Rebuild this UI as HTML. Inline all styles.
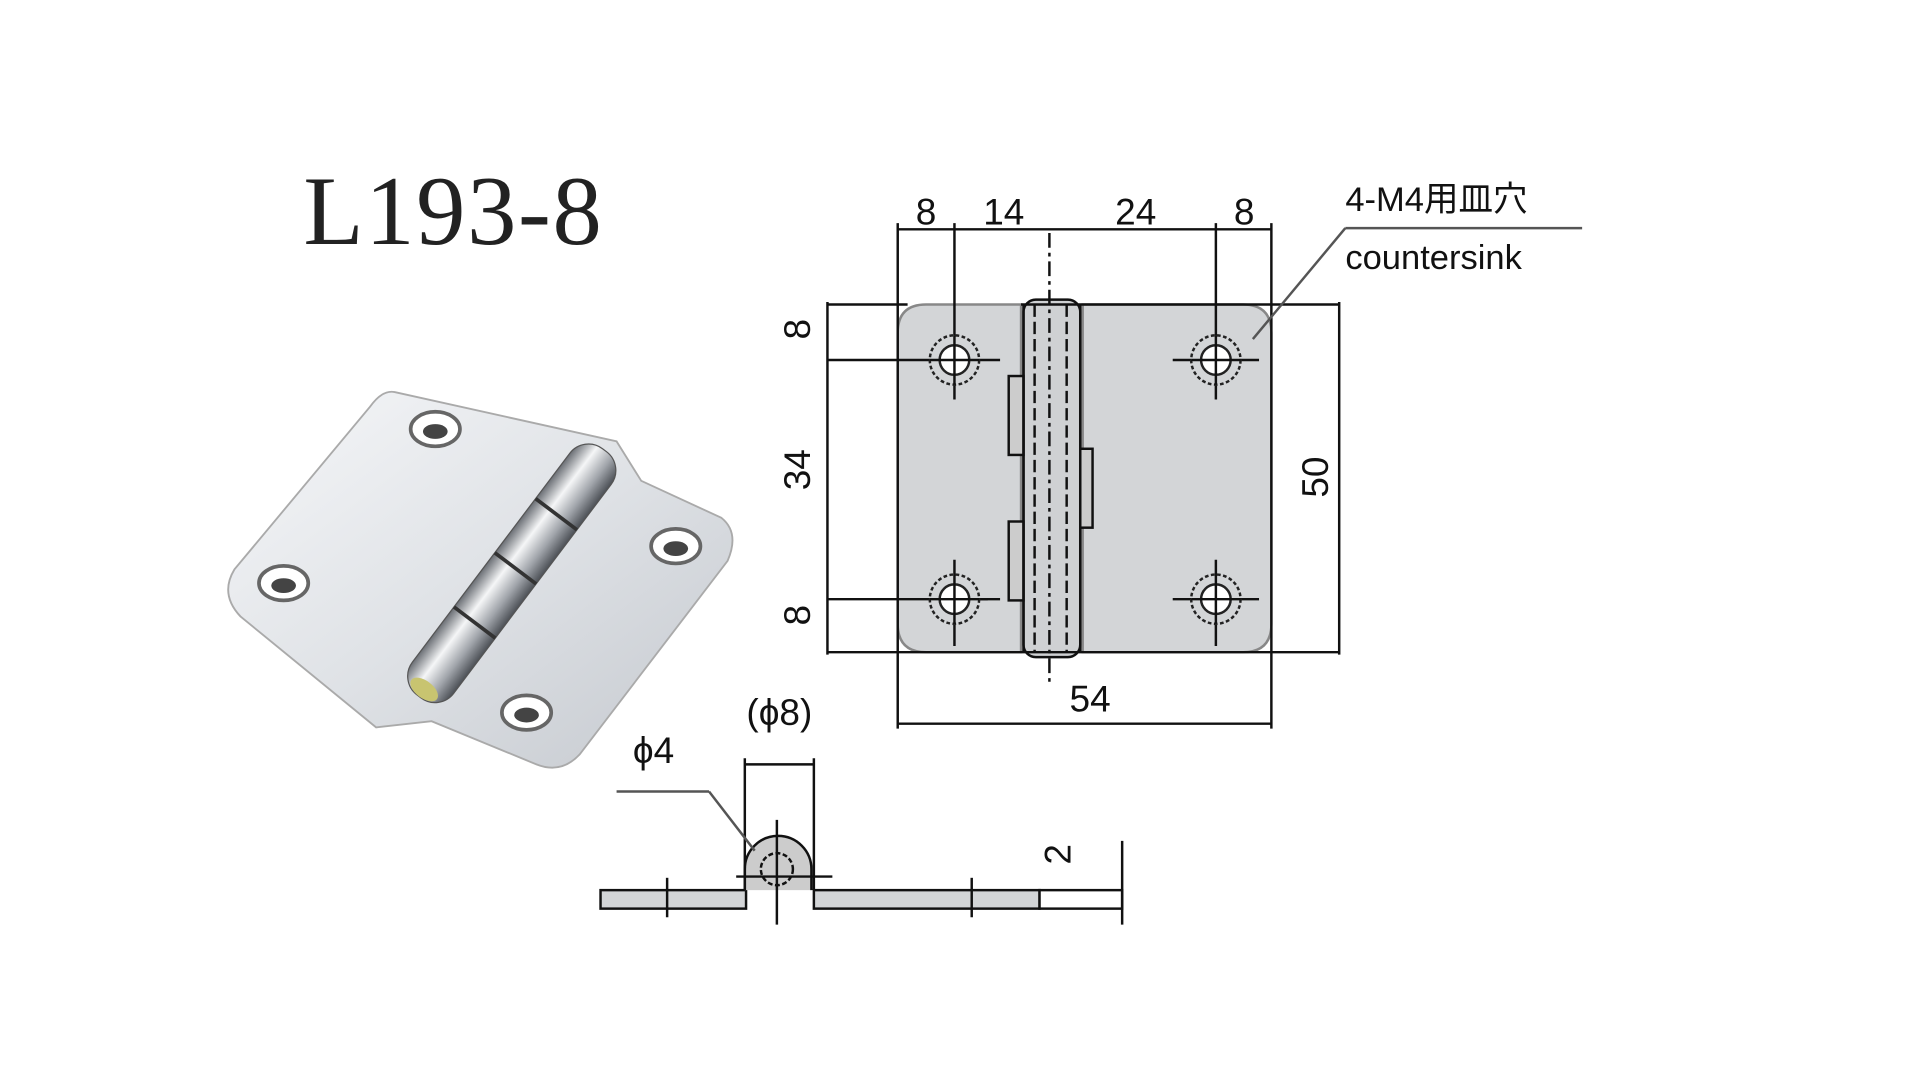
<!DOCTYPE html>
<html><head><meta charset="utf-8"><style>
html,body{margin:0;padding:0;background:#fff;width:1920px;height:1080px;overflow:hidden}
svg{display:block}
text{font-family:"Liberation Sans","Noto Sans CJK JP",sans-serif;fill:#111}
</style></head><body>
<svg width="1920" height="1080" viewBox="0 0 1557 876" preserveAspectRatio="none">
<defs>
<linearGradient id="m" x1="0" y1="0" x2="1" y2="1">
<stop offset="0" stop-color="#f6f7f9"/><stop offset=".5" stop-color="#dfe2e6"/><stop offset="1" stop-color="#c4c8ce"/></linearGradient>
<linearGradient id="k" x1="0" y1="0" x2="1" y2="0">
<stop offset="0" stop-color="#6a6e74"/><stop offset=".35" stop-color="#f5f6f7"/><stop offset=".7" stop-color="#a0a4aa"/><stop offset="1" stop-color="#4c5056"/></linearGradient>
</defs>
<text x="246" y="198" style="font-family:'Liberation Serif',serif;font-size:80px;fill:#222" textLength="242">L193-8</text>

<!-- photo -->
<path d="M320 318 L500 358 L520 390 L585 420 Q600 432 590 455 L470 612 Q455 628 435 620 L350 585 L305 590 L195 500 Q178 482 190 462 L300 330 Q310 316 320 318 Z" fill="url(#m)" stroke="#aaa" stroke-width="1.5"/>
<g transform="translate(415,465) rotate(37)">
<rect x="-21" y="-125" width="42" height="250" rx="19" fill="url(#k)" stroke="#555"/>
<line x1="-21" y1="-60" x2="21" y2="-60" stroke="#333" stroke-width="3"/>
<line x1="-21" y1="-5" x2="21" y2="-5" stroke="#333" stroke-width="3"/>
<line x1="-21" y1="50" x2="21" y2="50" stroke="#333" stroke-width="3"/>
<ellipse cx="0" cy="118" rx="13" ry="7" fill="#c8c470"/>
</g>
<g fill="#fff" stroke="#666" stroke-width="3">
<ellipse cx="353" cy="348" rx="20" ry="14"/><ellipse cx="230" cy="473" rx="20" ry="14"/>
<ellipse cx="548" cy="443" rx="20" ry="14"/><ellipse cx="427" cy="578" rx="20" ry="14"/></g>
<g fill="#444"><ellipse cx="353" cy="350" rx="10" ry="6"/><ellipse cx="230" cy="475" rx="10" ry="6"/><ellipse cx="548" cy="445" rx="10" ry="6"/><ellipse cx="427" cy="580" rx="10" ry="6"/></g>

<!-- front view -->
<g transform="translate(-4,-1)">
<g stroke="#111" stroke-width="2" fill="none">
<path d="M755 248 L832 248 L832 530 L755 530 Q732 530 732 507 L732 271 Q732 248 755 248Z" fill="#d3d5d7" stroke="#888"/>
<path d="M882 248 L1012 248 Q1035 248 1035 271 L1035 507 Q1035 530 1012 530 L882 530Z" fill="#d3d5d7" stroke="#888"/>
<rect x="834" y="244" width="46" height="290" rx="10" fill="#cfd1d3"/>
<rect x="822" y="306" width="12" height="64" fill="#ccc"/>
<rect x="880" y="365" width="10" height="64" fill="#ccc"/>
<rect x="822" y="424" width="12" height="64" fill="#ccc"/>
<line x1="834" y1="248" x2="834" y2="530"/><line x1="880" y1="248" x2="880" y2="530"/>
<line x1="843" y1="248" x2="843" y2="530" stroke-dasharray="10 4"/>
<line x1="869" y1="248" x2="869" y2="530" stroke-dasharray="10 4"/>
<line x1="855" y1="190" x2="855" y2="555" stroke-dasharray="12 4 3 4"/>
<line x1="832" y1="248" x2="1090" y2="248"/><line x1="675" y1="248" x2="740" y2="248"/>
<line x1="675" y1="530" x2="1090" y2="530"/>
<line x1="675" y1="293" x2="815" y2="293"/><line x1="675" y1="487" x2="815" y2="487"/>
<line x1="675" y1="246" x2="675" y2="532"/>
<line x1="1090" y1="246" x2="1090" y2="532"/>
<line x1="732" y1="182" x2="732" y2="592"/><line x1="1035" y1="182" x2="1035" y2="592"/>
<line x1="778" y1="182" x2="778" y2="325"/><line x1="990" y1="182" x2="990" y2="325"/>
<line x1="778" y1="455" x2="778" y2="525"/><line x1="990" y1="455" x2="990" y2="525"/>
<line x1="732" y1="187" x2="1035" y2="187"/>
<line x1="732" y1="588" x2="1035" y2="588"/>
<line x1="955" y1="293" x2="1025" y2="293"/><line x1="955" y1="487" x2="1025" y2="487"/>
<line x1="760" y1="487" x2="805" y2="487"/>
</g>
<g stroke="#222" stroke-width="2" fill="#fff">
<circle cx="778" cy="293" r="20" fill="#d3d5d7" stroke-dasharray="3 2"/><circle cx="778" cy="293" r="12"/>
<circle cx="990" cy="293" r="20" fill="#d3d5d7" stroke-dasharray="3 2"/><circle cx="990" cy="293" r="12"/>
<circle cx="778" cy="487" r="20" fill="#d3d5d7" stroke-dasharray="3 2"/><circle cx="778" cy="487" r="12"/>
<circle cx="990" cy="487" r="20" fill="#d3d5d7" stroke-dasharray="3 2"/><circle cx="990" cy="487" r="12"/>
</g>
<g stroke="#111" stroke-width="2">
<line x1="758" y1="293" x2="798" y2="293"/><line x1="778" y1="273" x2="778" y2="313"/>
<line x1="970" y1="293" x2="1010" y2="293"/><line x1="990" y1="273" x2="990" y2="313"/>
<line x1="758" y1="487" x2="798" y2="487"/><line x1="778" y1="467" x2="778" y2="507"/>
<line x1="970" y1="487" x2="1010" y2="487"/><line x1="990" y1="467" x2="990" y2="507"/></g>
<line x1="1095" y1="186" x2="1287" y2="186" stroke="#555" stroke-width="2"/>
<line x1="1095" y1="186" x2="1020" y2="276" stroke="#555" stroke-width="2"/>
<g font-size="30">
<text x="755" y="183" text-anchor="middle">8</text>
<text x="818" y="183" text-anchor="middle">14</text>
<text x="925" y="183" text-anchor="middle">24</text>
<text x="1013" y="183" text-anchor="middle">8</text>
<text x="888" y="578" text-anchor="middle">54</text>
<text x="1095" y="172" font-size="28">4-M4用皿穴</text>
<text x="1095" y="219" font-size="28">countersink</text>
<text transform="translate(661,268) rotate(-90)" text-anchor="middle">8</text>
<text transform="translate(661,382) rotate(-90)" text-anchor="middle">34</text>
<text transform="translate(661,500) rotate(-90)" text-anchor="middle">8</text>
<text transform="translate(1081,388) rotate(-90)" text-anchor="middle">50</text>
</g>
</g>

<!-- side view -->
<g font-size="30">
<text transform="translate(868,693) rotate(-90)" text-anchor="middle">2</text>
<text x="632" y="588" text-anchor="middle">(ϕ8)</text>
<text x="530" y="619" text-anchor="middle">ϕ4</text>
</g>
<g stroke="#111" stroke-width="2">
<rect x="487" y="722" width="118" height="15" fill="#d3d5d7"/>
<rect x="660" y="722" width="183" height="15" fill="#d3d5d7"/>
<rect x="843" y="722" width="67" height="15" fill="#fff"/>
<path d="M604 722 L604 705 A27 27 0 0 1 658 705 L658 722" fill="#ccc"/>
<circle cx="630" cy="705" r="13" fill="none" stroke-dasharray="4 2"/>
<line x1="604" y1="615" x2="604" y2="722"/><line x1="660" y1="615" x2="660" y2="722"/>
<line x1="604" y1="620" x2="660" y2="620"/>
<line x1="630" y1="665" x2="630" y2="750"/>
<line x1="597" y1="711" x2="675" y2="711"/>
<line x1="541" y1="712" x2="541" y2="744"/><line x1="788" y1="712" x2="788" y2="744"/>
<line x1="910" y1="682" x2="910" y2="750"/>
<line x1="500" y1="642" x2="575" y2="642" stroke="#555"/>
<line x1="575" y1="642" x2="612" y2="690" stroke="#555"/>
</g>
</svg>
</body></html>
